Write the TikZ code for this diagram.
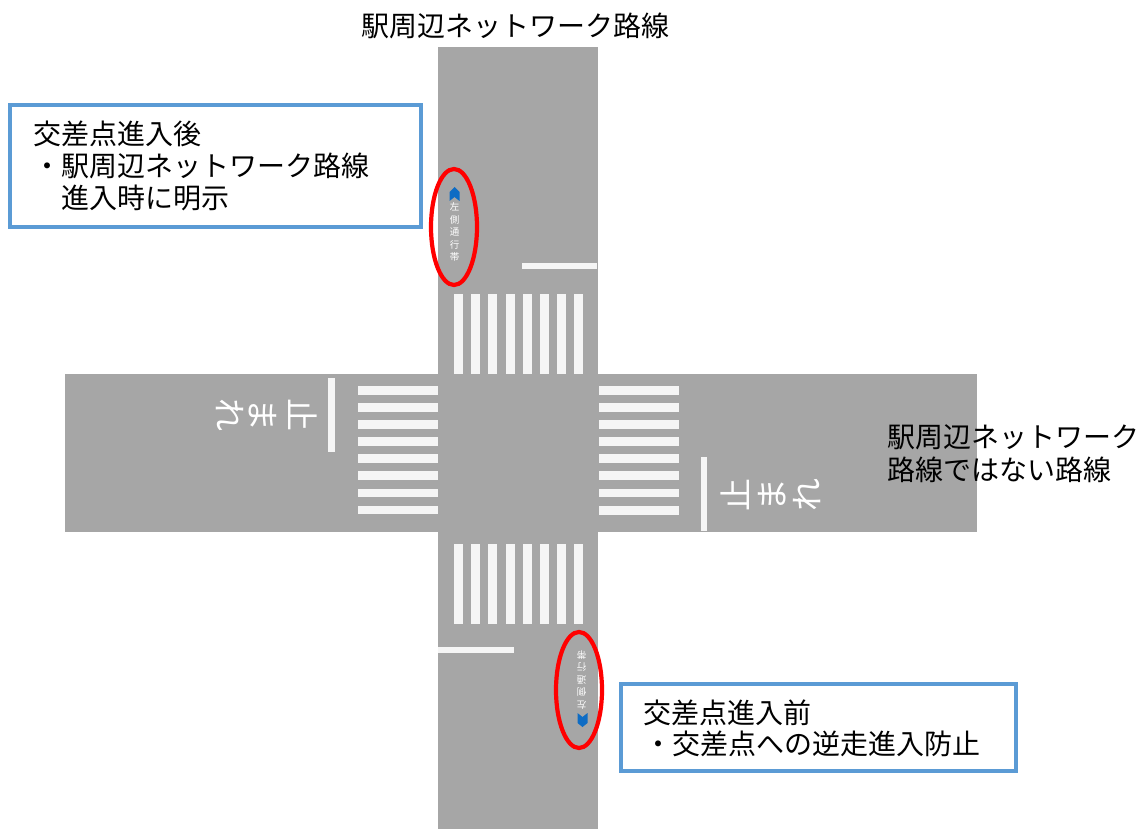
\documentclass[tikz,border=0pt]{standalone}
\usepackage{fontspec}
\usetikzlibrary{shapes.geometric}
\setmainfont{Noto Sans CJK JP}
\definecolor{road}{HTML}{A6A6A6}
\definecolor{paint}{HTML}{F5F5F5}
\definecolor{boxblue}{HTML}{5B9BD5}
\definecolor{arrowblue}{HTML}{0E6CC4}
\tikzset{
  x=1pt,y=-1pt,
  roadbar/.style={fill=road,draw=none},
  stripe/.style={fill=paint,draw=none},
  ringmark/.style={draw=red,line width=4.2pt,ellipse,fill=none,minimum width=46pt,minimum height=116pt,inner sep=0pt},
  notebox/.style={draw=boxblue,line width=3.7pt,fill=white},
  label/.style={font=\fontsize{28}{32.5}\selectfont,text=black,inner sep=0pt,align=left,anchor=north west},
  roadtext/.style={font=\fontsize{33}{33}\selectfont,text=white,inner sep=0pt},
  tinytext/.style={font=\fontsize{9.5}{9.5}\selectfont,text=white,inner sep=0pt},
}
\begin{document}
\begin{tikzpicture}
\useasboundingbox (0,0) rectangle (1140,829);
\fill[white] (0,0) rectangle (1140,829);
% roads
\fill[roadbar] (438,47) rectangle (598,829);
\fill[roadbar] (65,374) rectangle (977,532);
% vertical crossings
\foreach \x in {454,471.2,488.4,505.6,522.8,540,557.2,574.4}{
  \fill[stripe] (\x,294) rectangle ++(9,80);
  \fill[stripe] (\x,544) rectangle ++(9,80);
}
% horizontal crossings
\foreach \y in {386,403,420,437,454,471.3,488.5,505.7}{
  \fill[stripe] (358,\y) rectangle ++(80,8.6);
  \fill[stripe] (598.5,\y) rectangle ++(80,8.8);
}
% stop lines
\fill[stripe] (328,378) rectangle (335,452);
\fill[stripe] (701,457) rectangle (707,531);
\fill[stripe] (522,263) rectangle (597,269);
\fill[stripe] (438,647) rectangle (514,653);
% road text
\node[roadtext,rotate=-90] (s1) at (303,415) {止};
\node[roadtext,rotate=-90] (s2) at (263,415) {ま};
\node[roadtext,rotate=-90] (s3) at (230,415) {れ};
\node[roadtext,rotate=90] (t1) at (735,495) {止};
\node[roadtext,rotate=90] (t2) at (772,495) {ま};
\node[roadtext,rotate=90] (t3) at (807,495) {れ};
% small markings
\fill[arrowblue] (449.5,192) -- (454.5,187) -- (459.5,192) -- (459.5,201) -- (454.5,197) -- (449.5,201) -- cycle;
\node[tinytext] (a1) at (454.5,207) {左};
\node[tinytext] (a2) at (454.5,220) {側};
\node[tinytext] (a3) at (454.5,232) {通};
\node[tinytext] (a4) at (454.5,245) {行};
\node[tinytext] (a5) at (454.5,257) {帯};
\fill[arrowblue] (587.5,723) -- (582.5,727) -- (577.5,723) -- (577.5,713) -- (582.5,717) -- (587.5,713) -- cycle;
\node[tinytext,rotate=180] (b1) at (581.5,705) {左};
\node[tinytext,rotate=180] (b2) at (581.5,692) {側};
\node[tinytext,rotate=180] (b3) at (581.5,680) {通};
\node[tinytext,rotate=180] (b4) at (581.5,667) {行};
\node[tinytext,rotate=180] (b5) at (581.5,655) {帯};
\node[ringmark] (r1) at (454,227) {};
\node[ringmark] (r2) at (579,690) {};
% note boxes
\draw[notebox] (10,105) rectangle (421,227);
\draw[notebox] (621,684) rectangle (1016,771);
% labels
\node[label] (l1) at (361,12.5) {駅周辺ネットワーク路線};
\node[label] (l2) at (887,424.5) {駅周辺ネットワーク\\路線ではない路線};
\node[label] (l3) at (33,120.5) {交差点進入後};
\node[label] (l4) at (33,152.5) {・駅周辺ネットワーク路線};
\node[label] (l5) at (61,184.5) {進入時に明示};
\node[label] (l6) at (643,699.5) {交差点進入前};
\node[label] (l7) at (644,730.5) {・交差点への逆走進入防止};
\end{tikzpicture}
\end{document}
